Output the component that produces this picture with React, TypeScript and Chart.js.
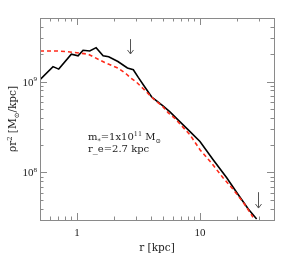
import React, { useEffect, useRef } from 'react';
import { Chart, registerables } from 'chart.js';
Chart.register(...registerables);

// Measured profile (black solid)
const radiusMeasured = [0.5, 0.638, 0.71, 0.899, 1.02, 1.12, 1.27, 1.43, 1.63, 1.81, 2.15, 2.57, 2.87, 3.15, 3.57, 4.05, 4.44, 5.03, 5.7, 6.66, 8.3, 10.0, 12.8, 16.5, 19.9, 24.7, 28.9];
const profileMeasured = [1.05e9, 1.46e9, 1.37e9, 2.0e9, 1.92e9, 2.21e9, 2.17e9, 2.36e9, 1.92e9, 1.87e9, 1.66e9, 1.41e9, 1.35e9, 1.11e9, 8.67e8, 6.75e8, 6.11e8, 5.35e8, 4.64e8, 3.77e8, 2.81e8, 2.19e8, 1.38e8, 8.75e7, 6.01e7, 3.96e7, 3.08e7];

// Model profile (red dashed)
const radiusModel = [0.5, 0.7, 0.845, 1.23, 1.68, 2.15, 2.52, 2.7, 3.05, 3.46, 3.92, 4.3, 4.88, 5.53, 6.25, 8.3, 10.0, 12.4, 15.4, 18.6, 22.5, 27.0];
const profileModel = [2.17e9, 2.17e9, 2.13e9, 2.0e9, 1.62e9, 1.41e9, 1.21e9, 1.11e9, 9.83e8, 8.33e8, 7.05e8, 6.21e8, 5.48e8, 4.52e8, 3.93e8, 2.59e8, 1.78e8, 1.27e8, 8.75e7, 6.53e7, 4.69e7, 3.22e7];

const xLabelValues = [1, 10];
const xLabelTexts = ['1', '10'];
const yLabelValues = [1e8, 1e9];
const yLabelExponents = ['8', '9'];

const arrowX = [2.7, 29.6];
const arrowTop = [2.93e9, 6.07e7];
const arrowBottom = [2.01e9, 4.06e7];

const X_MIN = 0.5, X_MAX = 40, Y_MIN = 3e7, Y_MAX = 5e9;
const FONT = '"Liberation Serif", "DejaVu Serif", serif';
const FONT2 = '"DejaVu Serif", "Liberation Serif", serif';
const AXIS_COLOR = '#8a8a8a';

type Seg = { t: string; sub?: boolean; sup?: boolean };

function drawRich(ctx: CanvasRenderingContext2D, segs: Seg[], x: number, y: number, size: number, align: 'left' | 'center' | 'right', family: string = FONT) {
  const widths = segs.map((s) => {
    ctx.font = `${s.sub || s.sup ? size * 0.65 : size}px ${family}`;
    return ctx.measureText(s.t).width;
  });
  const total = widths.reduce((a, b) => a + b, 0);
  let cx = align === 'left' ? x : align === 'center' ? x - total / 2 : x - total;
  ctx.textBaseline = 'alphabetic';
  ctx.textAlign = 'left';
  segs.forEach((s, i) => {
    ctx.font = `${s.sub || s.sup ? size * 0.65 : size}px ${family}`;
    const dy = s.sub ? size * 0.25 : s.sup ? -size * 0.4 : 0;
    ctx.fillText(s.t, cx, y + dy);
    cx += widths[i];
  });
}

function logTicks(min: number, max: number): number[] {
  const out: number[] = [];
  for (let e = Math.floor(Math.log10(min)); e <= Math.ceil(Math.log10(max)); e++) {
    for (let m = 1; m < 10; m++) {
      const v = m * Math.pow(10, e);
      if (v >= min * 0.999 && v <= max * 1.001) out.push(v);
    }
  }
  return out;
}

const framePlugin = {
  id: 'frame',
  afterDraw(chart: any) {
    const { ctx, chartArea, scales } = chart;
    const { left, right, top, bottom } = chartArea;
    const xs = scales.x, ys = scales.y;
    ctx.save();
    ctx.strokeStyle = AXIS_COLOR;
    ctx.lineWidth = 1;
    ctx.strokeRect(Math.round(left) + 0.5, Math.round(top) + 0.5, Math.round(right - left), Math.round(bottom - top));
    const isMajor = (v: number) => Math.abs(Math.log10(v) - Math.round(Math.log10(v))) < 1e-6;
    ctx.beginPath();
    logTicks(X_MIN, X_MAX).forEach((v) => {
      const px = Math.round(xs.getPixelForValue(v)) + 0.5;
      const len = isMajor(v) ? 7 : 3.5;
      ctx.moveTo(px, bottom); ctx.lineTo(px, bottom - len);
      ctx.moveTo(px, top); ctx.lineTo(px, top + len);
    });
    logTicks(Y_MIN, Y_MAX).forEach((v) => {
      const py = Math.round(ys.getPixelForValue(v)) + 0.5;
      const len = isMajor(v) ? 7 : 3.5;
      ctx.moveTo(left, py); ctx.lineTo(left + len, py);
      ctx.moveTo(right, py); ctx.lineTo(right - len, py);
    });
    ctx.stroke();

    // tick labels
    ctx.fillStyle = '#222';
    xLabelValues.forEach((v, i) => {
      drawRich(ctx, [{ t: xLabelTexts[i] }], xs.getPixelForValue(v), bottom + 16, 11, 'center');
    });
    yLabelValues.forEach((v, i) => {
      drawRich(ctx, [{ t: '10' }, { t: yLabelExponents[i], sup: true }], left - 3, ys.getPixelForValue(v) + 4, 11, 'right');
    });

    // axis titles
    drawRich(ctx, [{ t: 'r [kpc]' }], (left + right) / 2, bottom + 31, 10.5, 'center', FONT2);
    ctx.save();
    ctx.translate(16, (top + bottom) / 2);
    ctx.rotate(-Math.PI / 2);
    drawRich(ctx, [{ t: 'ρr' }, { t: '2', sup: true }, { t: ' [M' }, { t: '⊙', sub: true }, { t: '/kpc]' }], 0, 0, 10.5, 'center', FONT2);
    ctx.restore();

    // annotation
    drawRich(ctx, [{ t: 'm' }, { t: '*', sub: true }, { t: '=1x10' }, { t: '11', sup: true }, { t: ' M' }, { t: '⊙', sub: true }], left + 48, top + 122, 10, 'left', FONT2);
    drawRich(ctx, [{ t: 'r_e=2.7 kpc' }], left + 48, top + 134, 10, 'left', FONT2);

    // arrows
    ctx.strokeStyle = '#555';
    ctx.lineWidth = 1;
    arrowX.forEach((v, i) => {
      const px = Math.round(xs.getPixelForValue(v)) + 0.5;
      const y1 = ys.getPixelForValue(arrowTop[i]);
      const y2 = ys.getPixelForValue(arrowBottom[i]);
      ctx.beginPath();
      ctx.moveTo(px, y1); ctx.lineTo(px, y2);
      ctx.moveTo(px - 3, y2 - 4); ctx.lineTo(px, y2); ctx.lineTo(px + 3, y2 - 4);
      ctx.stroke();
    });
    ctx.restore();
  },
};

export default function App() {
  const ref = useRef<HTMLCanvasElement>(null);
  useEffect(() => {
    document.body.style.margin = '0';
    const chart = new Chart(ref.current!, {
      type: 'line',
      data: {
        datasets: [
          {
            data: radiusModel.map((r, i) => ({ x: r, y: profileModel[i] })),
            borderColor: '#ff2a1a',
            borderWidth: 1.6,
            borderDash: [4, 3],
            pointRadius: 0,
            tension: 0,
          },
          {
            data: radiusMeasured.map((r, i) => ({ x: r, y: profileMeasured[i] })),
            borderColor: '#000',
            borderWidth: 1.6,
            pointRadius: 0,
            tension: 0,
          },
        ],
      },
      options: {
        animation: false,
        responsive: false,
        devicePixelRatio: 1,
        layout: { padding: { top: 18, right: 25, left: 0, bottom: 0 } },
        plugins: { legend: { display: false }, tooltip: { enabled: false } },
        scales: {
          x: {
            type: 'logarithmic', min: X_MIN, max: X_MAX,
            grid: { display: false }, border: { display: false },
            ticks: { display: false },
            afterFit: (s: any) => { s.height = 47; },
          },
          y: {
            type: 'logarithmic', min: Y_MIN, max: Y_MAX,
            grid: { display: false }, border: { display: false },
            ticks: { display: false },
            afterFit: (s: any) => { s.width = 40; },
          },
        },
      },
      plugins: [framePlugin],
    } as any);
    return () => chart.destroy();
  }, []);
  return <canvas ref={ref} width={299} height={267} style={{ display: 'block' }} />;
}
